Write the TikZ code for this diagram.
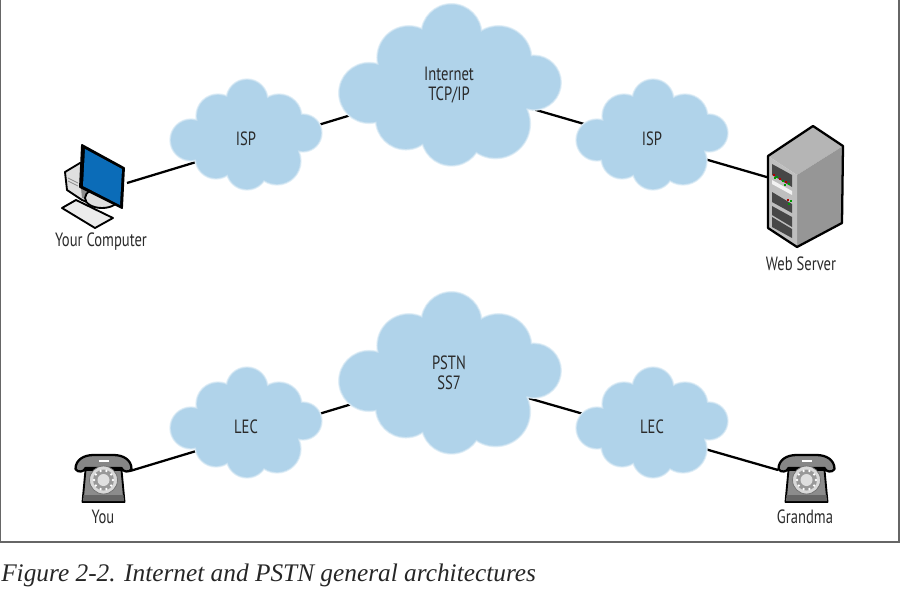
\documentclass[tikz,border=0pt]{standalone}
\usepackage{fontspec}
\setmainfont{Liberation Serif}
\newfontfamily\labelfont[FakeStretch=0.76]{PT Sans}
\usepackage{xcolor}
\usepackage{tikz}

\definecolor{cloudblue}{HTML}{B0D3EA}
\definecolor{screenblue}{HTML}{0B6CB8}
\definecolor{labelgray}{HTML}{2A2A2A}

\newcommand{\cloudblobs}{
  (1,-38) circle (20) (-28,-22) circle (21) (33,-21) circle (22)
  (57,-5) circle (18) (-55,2) circle (20) (-30,20) circle (20)
  (1,31) circle (20) (31,23) circle (23) (0,-3) circle (38)
  (-25,0) circle (26) (28,-2) circle (28)
}

\tikzset{
  lbl/.style = {font=\labelfont\fontsize{14.4}{15}\selectfont, text=labelgray, align=center, inner sep=0pt},
  link/.style = {draw=black, line width=1.7pt},
  outline/.style = {draw=black, line width=1.4pt, line join=round},
  pics/netcloud/.style = {code={
    \path[draw=cloudblue!35, line width=2.6pt] \cloudblobs;
    \path[draw=cloudblue!70, line width=1.3pt] \cloudblobs;
    \path[fill=cloudblue] \cloudblobs;
  }},
  pics/phoneset/.style = {code={
    % --- body ---
    \draw[outline, fill=gray!90] (-18,-8) -- (18,-8) -- (21,24) -- (-21,24) -- cycle;
    \fill[black!60] (-20,17) -- (20,17) -- (20.5,23) -- (-20.5,23) -- cycle;
    % --- handset ---
    \draw[outline, fill=gray!105!black, line width=1.7pt] (-28,-9)
      .. controls (-28,-18) and (-20,-23) .. (-10,-23) -- (10,-23)
      .. controls (20,-23) and (28,-18) .. (28,-9)
      .. controls (26,-5) and (19,-6) .. (18,-10) -- (-18,-10)
      .. controls (-19,-6) and (-26,-5) .. (-28,-9) -- cycle;
    \draw[white, line width=1.2pt] (-5,-17) -- (5,-17);
    % --- dial ---
    \draw[fill=gray!30, draw=gray!90!black, line width=.6pt] (0,2) circle (14);
    \fill[gray!80] (0,2) circle (10.5);
    \fill[gray!25] (0,2) circle (6);
    \foreach \a in {0,36,...,324}
      \fill[white] (0,2) ++(\a:9.5) circle (1.3);
  }}
}

\begin{document}
\begin{tikzpicture}[x=0.75pt, y=-0.75pt]
  \useasboundingbox (0,0) rectangle (900,603);

  % --- Frame, open at the top ---
  \draw[gray!80!black, line width=.9pt] (0.5,0) -- (0.5,542) -- (899,542) -- (899,0);

  % --- Anchors of the links ---
  \coordinate (computer) at (127,183);
  \coordinate (internet) at (450,85);
  \coordinate (webserver) at (770,178);
  \coordinate (you) at (130,471);
  \coordinate (pstn) at (448,375);
  \coordinate (grandma) at (778,470);

  \draw[link] (computer) -- (internet);
  \draw[link] (internet) -- (webserver);
  \draw[link] (you) -- (pstn);
  \draw[link] (pstn) -- (grandma);

  % --- Clouds ---
  \pic at (246,138) {netcloud};
  \pic at (652,138) {netcloud};
  \pic[scale=1.47] at (450,90) {netcloud};
  \pic at (246,426) {netcloud};
  \pic at (652,426) {netcloud};
  \pic[scale=1.47] at (450,378) {netcloud};

  \node[lbl] (ispL) at (246,139) {ISP};
  \node[lbl] (ispR) at (652,139) {ISP};
  \node[lbl] (inet) at (449,85) {Internet\\TCP/IP};
  \node[lbl] (lecL) at (246,427) {LEC};
  \node[lbl] (lecR) at (652,427) {LEC};
  \node[lbl] (ss7)  at (449,373) {PSTN\\SS7};

  % --- Computer ---
  \draw[outline, fill=gray!25] (65,172) -- (80,163) -- (95,172) -- (94,205) -- (82,200) -- (67,190) -- cycle;
  \fill[gray!90] (80,178) -- (92,176) -- (92,200) -- (82,198) -- cycle;
  \draw[gray!90, line width=.6pt] (68,178) -- (78,183) (68,181) -- (78,186);
  \draw[outline, fill=gray!25] (102,198) ellipse (17 and 10);
  \draw[outline, fill=gray!15] (62,208) -- (76,200) -- (113,218) -- (95,228) -- cycle;
  \draw[black, fill=black, line width=1.4pt, line join=round] (82,145) -- (124,168) -- (122,208) -- (80,187) -- cycle;
  \fill[screenblue] (85,149) -- (122,169) -- (120,205) -- (83,186) -- cycle;

  % --- Server ---
  \fill[gray!58] (813,126) -- (843,146) -- (797,175) -- (768,156) -- cycle;
  \fill[gray!82] (843,146) -- (842,223) -- (797,247) -- (797,175) -- cycle;
  \fill[gray!50] (768,156) -- (797,175) -- (797,247) -- (768,228) -- cycle;
  \fill[black!72] (772,164) -- (792,175) -- (792,187) -- (772,175) -- cycle;
  \fill[white!90!gray] (772,180) -- (792,191) -- (792,195) -- (772,184) -- cycle;
  \fill[black!72] (772,192) -- (792,204) -- (792,213) -- (772,202) -- cycle;
  \fill[black!72] (772,206) -- (792,217) -- (792,227) -- (772,215) -- cycle;
  \fill[black!72] (772,217) -- (792,229) -- (792,238) -- (772,227) -- cycle;
  \foreach \x/\y/\c in {773/174/red!70!black, 776/176/green!60!black, 779/178/red!70!black, 782/180/green!60!black,
                        785/181/red!70!black, 788/183/green!60!black, 774/177/green!60!black, 784/184/green!60!black,
                        787/199/red!70!black, 790/200/green!60!black, 788/203/green!60!black}
    \fill[\c] (\x,\y) rectangle ++(2,2);
  \draw[outline, line width=1.7pt] (813,126) -- (843,146) -- (842,223) -- (797,247) -- (768,228) -- (768,156) -- cycle;

  % --- Phones ---
  \pic at (103.5,478) {phoneset};
  \pic at (806.5,478) {phoneset};

  % --- Labels ---
  \node[lbl] (lblcomputer) at (101,241.5) {Your Computer};
  \node[lbl] (lblserver)   at (801,264) {Web Server};
  \node[lbl] (lblyou)      at (103,517) {You};
  \node[lbl] (lblgrandma)  at (805,517) {Grandma};

  \node[anchor=west, inner sep=0pt, font=\itshape\fontsize{19}{22}\selectfont, text=black!85] (caption) at (1,575.5)
    {Figure 2-2. Internet and PSTN general architectures};
\end{tikzpicture}
\end{document}
